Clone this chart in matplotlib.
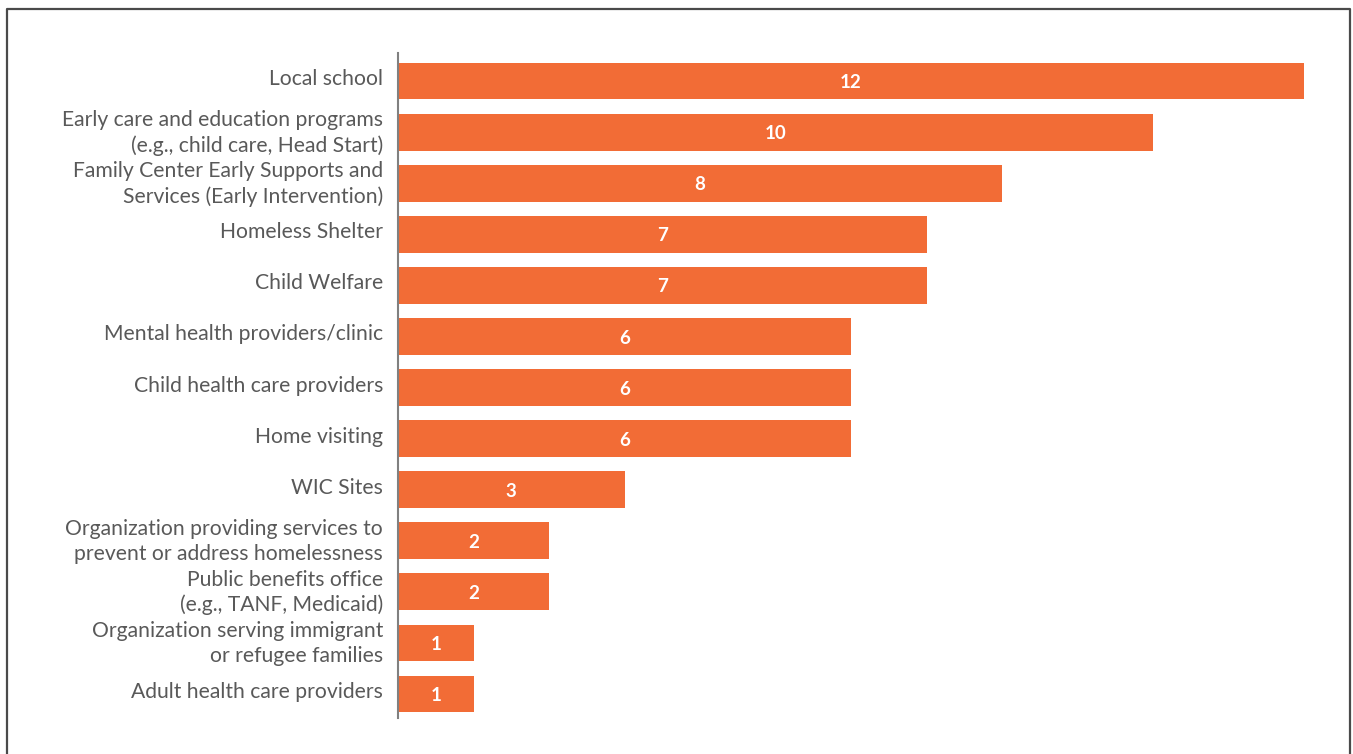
import matplotlib.pyplot as plt
import matplotlib.transforms as mtransforms
from matplotlib.lines import Line2D

plt.rcParams['font.family'] = ['Lato', 'DejaVu Sans']

categories = [
    "Local school",
    "Early care and education programs\n(e.g., child care, Head Start)",
    "Family Center Early Supports and\nServices (Early Intervention)",
    "Homeless Shelter",
    "Child Welfare",
    "Mental health providers/clinic",
    "Child health care providers",
    "Home visiting",
    "WIC Sites",
    "Organization providing services to\nprevent or address homelessness",
    "Public benefits office\n(e.g., TANF, Medicaid)",
    "Organization serving immigrant\nor refugee families",
    "Adult health care providers",
]
counts = [12, 10, 8, 7, 7, 6, 6, 6, 3, 2, 2, 1, 1]

bar_color = "#F26C36"
text_gray = "#595959"

fig = plt.figure(figsize=(13.53, 7.54), dpi=100)
ax = fig.add_axes([398 / 1353, 1 - 718 / 754, (1304 - 398) / 1353, (718 - 53) / 754])

pos = list(range(len(categories)))
bars = ax.barh(pos, counts, height=0.72, color=bar_color)
for rect, v in zip(bars, counts):
    ax.text(rect.get_width() / 2, rect.get_y() + rect.get_height() / 2 + 0.03, str(v),
            ha='center', va='center', color='white', fontsize=13.5, fontweight='bold')

ax.set_xlim(0, 12)
ax.set_ylim(12.47, -0.55)
ax.set_yticks(pos)
ax.set_yticklabels(categories, fontsize=15.2, color=text_gray, linespacing=1.32)
ax.tick_params(axis='y', length=0, pad=10.8)
# nudge category labels up a few pixels
shift = mtransforms.ScaledTranslation(0, 0.04, fig.dpi_scale_trans)
for lbl in ax.get_yticklabels():
    lbl.set_transform(lbl.get_transform() + shift)
ax.set_xticks([])
for side in ['top', 'right', 'bottom']:
    ax.spines[side].set_visible(False)
ax.spines['left'].set_color('#808080')
ax.spines['left'].set_linewidth(1.5)

# open frame around the chart panel
W, H = 1353, 754
frame_x = [7 / W, 7 / W, 1350 / W, 1350 / W]
frame_y = [0, 1 - 9 / H, 1 - 9 / H, 0]
fig.add_artist(Line2D(frame_x, frame_y, transform=fig.transFigure,
                      color='#4a4a4a', linewidth=1.6))

fig.savefig("out.png", dpi=100)
